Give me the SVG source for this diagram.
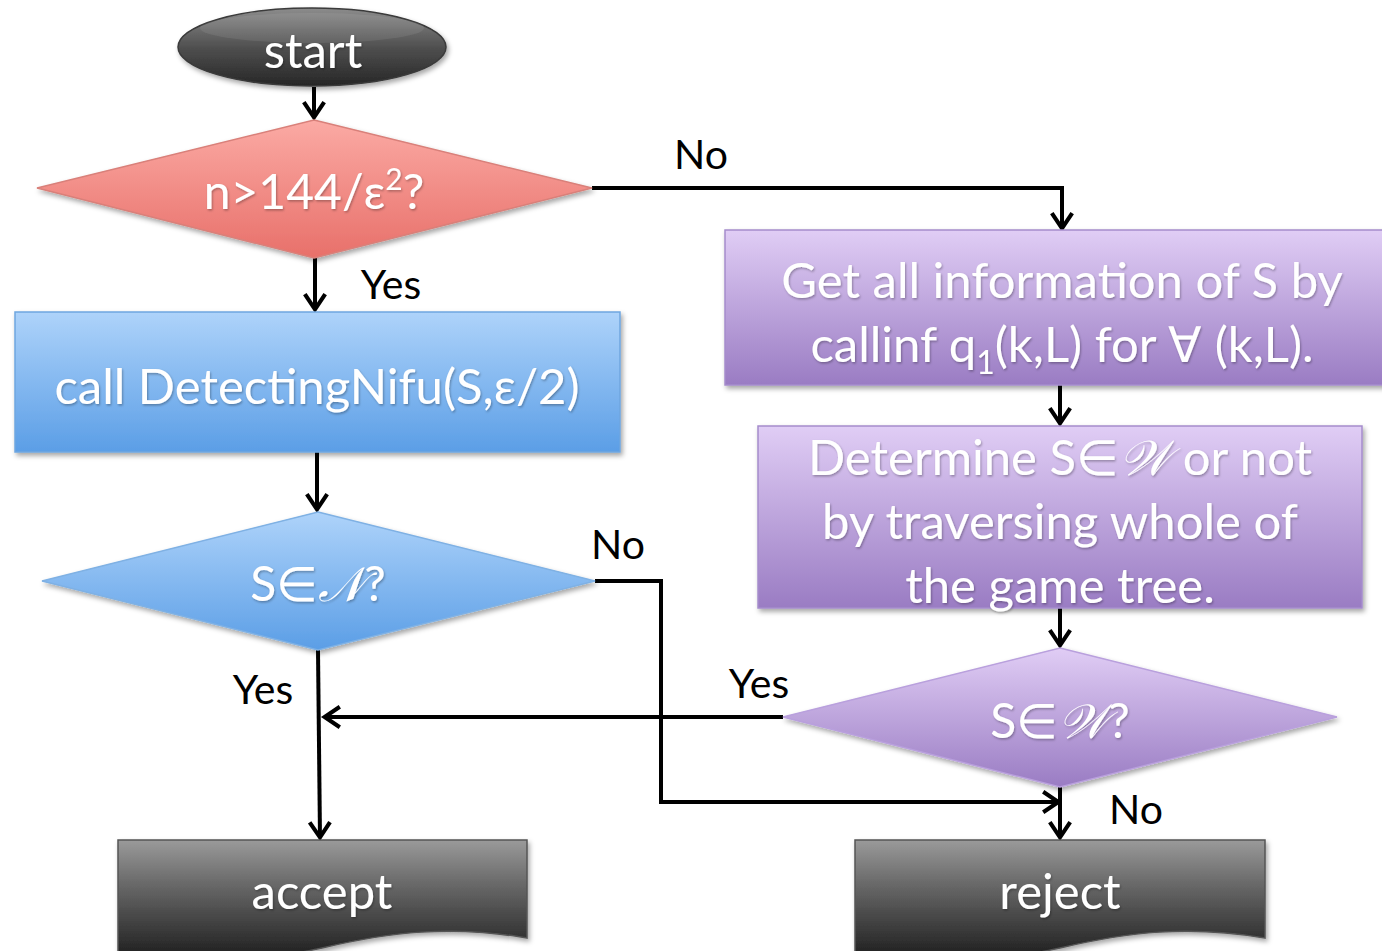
<svg xmlns="http://www.w3.org/2000/svg" width="1382" height="951" viewBox="0 0 1382 951">
  <defs>
    <linearGradient id="gDark" x1="0" y1="0" x2="0" y2="1">
      <stop offset="0" stop-color="#9a9a9a"/>
      <stop offset="0.35" stop-color="#6b6b6b"/>
      <stop offset="1" stop-color="#1c1c1c"/>
    </linearGradient>
    <linearGradient id="gEll" x1="0" y1="0" x2="0" y2="1">
      <stop offset="0" stop-color="#8c8c8c"/>
      <stop offset="0.5" stop-color="#505050"/>
      <stop offset="1" stop-color="#262626"/>
    </linearGradient>
    <linearGradient id="gRed" x1="0" y1="0" x2="0" y2="1">
      <stop offset="0" stop-color="#fbaaa4"/>
      <stop offset="1" stop-color="#e8706a"/>
    </linearGradient>
    <linearGradient id="gBlue" x1="0" y1="0" x2="0" y2="1">
      <stop offset="0" stop-color="#aed3fa"/>
      <stop offset="1" stop-color="#5b9ee6"/>
    </linearGradient>
    <linearGradient id="gPurple" x1="0" y1="0" x2="0" y2="1">
      <stop offset="0" stop-color="#e0cdf5"/>
      <stop offset="1" stop-color="#9a7cc3"/>
    </linearGradient>
    <filter id="shadow" x="-10%" y="-10%" width="120%" height="130%">
      <feDropShadow dx="2" dy="3" stdDeviation="2.5" flood-color="#000" flood-opacity="0.35"/>
    </filter>
    <filter id="tshadow" x="-5%" y="-20%" width="110%" height="140%">
      <feDropShadow dx="1" dy="1.5" stdDeviation="1" flood-color="#000" flood-opacity="0.3"/>
    </filter>
    <!-- open chevron arrowhead -->
    <marker id="arrow" viewBox="0 0 12 12" refX="10.3" refY="6" markerWidth="26" markerHeight="26" orient="auto" markerUnits="userSpaceOnUse">
      <path d="M3,1.3 L10,6 L3,10.7" fill="none" stroke="#000" stroke-width="1.9" stroke-linejoin="miter"/>
    </marker>
  </defs>
  <style>
    .shape { stroke-width: 1.5; filter: url(#shadow); }
    .label { font-family: "Lato", "Liberation Sans", sans-serif; fill: #ffffff; text-anchor: middle; filter: url(#tshadow); }
    .math { font-family: "DejaVu Serif", "Liberation Serif", serif; font-style: italic; }
    .edge { fill: none; stroke: #000; stroke-width: 4; marker-end: url(#arrow); }
    .edgeLabel { font-family: "Lato", "Liberation Sans", sans-serif; font-size: 41px; fill: #000; text-anchor: middle; }
  </style>

  <rect width="1382" height="951" fill="#ffffff"/>

  <!-- connectors -->
  <g id="connectors">
    <path class="edge" d="M314,87 V118"/>
    <path class="edge" d="M592,188 H1062 V229"/>
    <path class="edge" d="M315,258 V310"/>
    <path class="edge" d="M317,452 V510"/>
    <path class="edge" d="M595,581 H661 V802 H1059"/>
    <path class="edge" d="M318,650 L320,838"/>
    <path class="edge" d="M1060,372 V424"/>
    <path class="edge" d="M1060,596 V646"/>
    <path class="edge" d="M783,717 H324"/>
    <path class="edge" d="M1060,787 V838"/>
    <text class="edgeLabel" x="701" y="169">No</text>
    <text class="edgeLabel" x="391" y="299">Yes</text>
    <text class="edgeLabel" x="618" y="559">No</text>
    <text class="edgeLabel" x="263" y="704">Yes</text>
    <text class="edgeLabel" x="759" y="698">Yes</text>
    <text class="edgeLabel" x="1136" y="824">No</text>
  </g>

  <!-- start -->
  <g id="start">
    <ellipse class="shape" cx="312" cy="47" rx="134" ry="39" fill="url(#gEll)" stroke="#3a3a3a"/>
    <ellipse cx="312" cy="28" rx="112" ry="15" fill="#ffffff" opacity="0.08"/>
    <text class="label" x="313" y="68" font-size="49">start</text>
  </g>

  <!-- decision n > 144/eps^2 -->
  <g id="cond-n">
    <polygon class="shape" points="314,120 592,188 314,258 37,188" fill="url(#gRed)" stroke="#d9807a"/>
    <text class="label" x="314" y="209" font-size="48">n&gt;144/ε<tspan font-size="30" dy="-19">2</tspan><tspan dy="19">?</tspan></text>
  </g>

  <!-- detecting procedure -->
  <g id="detect">
    <rect class="shape" x="15" y="312" width="605" height="140" fill="url(#gBlue)" stroke="#6fa6df"/>
    <text class="label" x="317" y="404" font-size="49">call DetectingNifu(S,ε/2)</text>
  </g>

  <!-- decision S in N -->
  <g id="cond-N">
    <polygon class="shape" points="318,512 595,581 318,650 42,581" fill="url(#gBlue)" stroke="#7fb1e4"/>
    <text class="label" x="318" y="601" font-size="48">S∈<tspan class="math">𝒩</tspan>?</text>
  </g>

  <!-- gather information -->
  <g id="gather">
    <rect class="shape" x="725" y="230" width="670" height="155" fill="url(#gPurple)" stroke="#a58ccc"/>
    <text class="label" x="1062" y="298" font-size="49">Get all information of S by</text>
    <text class="label" x="1062" y="362" font-size="49">callinf q<tspan font-size="32" dy="12">1</tspan><tspan dy="-12">(k,L) for ∀ (k,L).</tspan></text>
  </g>

  <!-- traverse game tree -->
  <g id="traverse">
    <rect class="shape" x="758" y="426" width="604" height="182" fill="url(#gPurple)" stroke="#a58ccc"/>
    <text class="label" x="1060" y="475" font-size="49">Determine S∈<tspan class="math">𝒲</tspan> or not</text>
    <text class="label" x="1060" y="539" font-size="49">by traversing whole of</text>
    <text class="label" x="1060" y="603" font-size="49">the game tree.</text>
  </g>

  <!-- decision S in W -->
  <g id="cond-W">
    <polygon class="shape" points="1060,648 1337,717 1060,787 783,717" fill="url(#gPurple)" stroke="#b9a0dd"/>
    <text class="label" x="1060" y="738" font-size="48">S∈<tspan class="math">𝒲</tspan>?</text>
  </g>

  <!-- accept -->
  <g id="accept">
    <path class="shape" d="M118,840 H527 V938 C450,925 390,932 322,948 C250,965 180,960 118,956 Z" fill="url(#gDark)" stroke="#555"/>
    <text class="label" x="322" y="909" font-size="49">accept</text>
  </g>

  <!-- reject -->
  <g id="reject">
    <path class="shape" d="M855,840 H1265 V938 C1188,925 1128,932 1060,948 C988,965 918,960 855,956 Z" fill="url(#gDark)" stroke="#555"/>
    <text class="label" x="1060" y="909" font-size="49">reject</text>
  </g>
</svg>
